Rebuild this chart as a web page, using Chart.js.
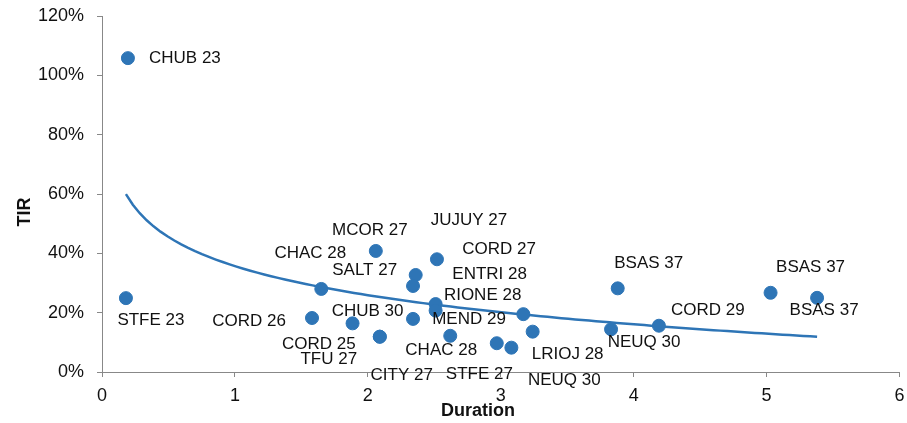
<!DOCTYPE html>
<html>
<head>
<meta charset="utf-8">
<script src="https://cdn.jsdelivr.net/npm/chart.js@4"></script>
<style>
  html, body { margin: 0; padding: 0; background: #fff; }
  #wrap { width: 907px; height: 423px; }
</style>
</head>
<body>
<div id="wrap"><canvas id="tirChart" width="907" height="423"></canvas></div>
<script>
// bond names, duration (years) and TIR (%)
const bondNames = ['CHUB 23', 'STFE 23', 'CHAC 28', 'CORD 26', 'CHUB 30', 'CORD 25', 'TFU 27',
    'MCOR 27', 'JUJUY 27', 'SALT 27', 'CORD 27', 'ENTRI 28', 'RIONE 28', 'MEND 29', 'CHAC 28',
    'CITY 27', 'STFE 27', 'NEUQ 30', 'LRIOJ 28', 'NEUQ 30', 'BSAS 37', 'CORD 29', 'BSAS 37', 'BSAS 37'];
const durations = [0.195, 0.18, 1.65, 1.58, 1.885, 2.09, 2.09,
    2.06, 2.52, 2.36, 2.34, 2.51, 2.51, 2.34, 2.62,
    2.97, 3.08, 3.17, 3.24, 3.83, 3.88, 4.19, 5.03, 5.38];
const tirValues = [105.8, 24.9, 28.0, 18.2, 16.4, 11.9, 11.9,
    40.8, 38.0, 32.7, 29.0, 22.9, 20.7, 17.9, 12.2,
    9.7, 8.2, 19.5, 13.6, 14.4, 28.2, 15.6, 26.7, 25.0];
const xTicks = [0, 1, 2, 3, 4, 5, 6];
const yTicks = [0, 20, 40, 60, 80, 100, 120];

// label placement relative to each point (pixels)
const labelOffsets = [[57, 0], [25, 22], [-11, -36], [-63, 3], [15, -12], [-61, 8], [-51, 23],
    [-6, -21], [32, -39], [-51, -5], [86, -37], [54, -30], [47, -15], [56, 0], [-9, 15],
    [-95, 32], [-32, 27], [41, 66], [35, 23], [33, 13], [31, -25], [49, -15], [40, -25], [7, 12]];

const blue = '#2E75B6';
const fontFamily = '"Liberation Sans", Arial, sans-serif';

// logarithmic trendline, least squares on ln(x)
function logFit(xs, ys) {
    const n = xs.length;
    let sx = 0, sy = 0, sxx = 0, sxy = 0;
    for (let i = 0; i < n; i++) {
        const lx = Math.log(xs[i]);
        sx += lx; sy += ys[i]; sxx += lx * lx; sxy += lx * ys[i];
    }
    const b = (n * sxy - sx * sy) / (n * sxx - sx * sx);
    const a = (sy - b * sx) / n;
    return { a, b };
}
const fit = logFit(durations, tirValues);
const xMin = Math.min(...durations), xMax = Math.max(...durations);
const trend = [];
for (let i = 0; i <= 100; i++) {
    const x = xMin + (xMax - xMin) * i / 100;
    trend.push({ x: x, y: fit.a + fit.b * Math.log(x) });
}

const pointLabels = {
    id: 'pointLabels',
    afterDatasetsDraw(chart) {
        const ctx = chart.ctx;
        const meta = chart.getDatasetMeta(0);
        ctx.save();
        ctx.font = '17px ' + fontFamily;
        ctx.fillStyle = '#111';
        ctx.textAlign = 'center';
        ctx.textBaseline = 'middle';
        meta.data.forEach((pt, i) => {
            const off = labelOffsets[i];
            ctx.fillText(bondNames[i], pt.x + off[0], pt.y + off[1]);
        });
        // axis titles, placed like the original
        ctx.font = 'bold 18px ' + fontFamily;
        ctx.fillText('Duration', 478, 411);
        ctx.translate(25, 212);
        ctx.rotate(-Math.PI / 2);
        ctx.fillText('TIR', 0, 0);
        ctx.restore();
    }
};

Chart.defaults.font.family = fontFamily;
Chart.defaults.color = '#111';

new Chart(document.getElementById('tirChart').getContext('2d'), {
    type: 'scatter',
    data: {
        datasets: [{
            label: 'TIR',
            data: durations.map((d, i) => ({ x: d, y: tirValues[i] })),
            backgroundColor: blue,
            borderColor: blue,
            pointRadius: 6.5,
            pointHoverRadius: 6.5,
            order: 1
        }, {
            type: 'line',
            label: 'Tendencia',
            data: trend,
            borderColor: blue,
            borderWidth: 2.5,
            pointRadius: 0,
            fill: false,
            tension: 0,
            order: 2
        }]
    },
    options: {
        responsive: false,
        animation: false,
        layout: { padding: { top: 16, right: 2, left: 0, bottom: 0 } },
        plugins: {
            legend: { display: false },
            tooltip: { enabled: false }
        },
        scales: {
            x: {
                type: 'linear',
                min: 0,
                max: 6,
                afterBuildTicks: (s) => { s.ticks = xTicks.map(v => ({ value: v })); },
                afterFit: (s) => { s.height = 51; s.paddingLeft = 0; s.paddingRight = 0; },
                grid: { drawOnChartArea: false, tickLength: 5, color: '#888' },
                border: { color: '#888' },
                ticks: { font: { size: 18 }, padding: 8 }
            },
            y: {
                min: 0,
                max: 120,
                afterBuildTicks: (s) => { s.ticks = yTicks.map(v => ({ value: v })); },
                afterFit: (s) => { s.width = 102; s.paddingTop = 0; s.paddingBottom = 0; },
                grid: { drawOnChartArea: false, tickLength: 5, color: '#888' },
                border: { color: '#888' },
                ticks: { font: { size: 18 }, padding: 13, callback: v => v + '%' }
            }
        }
    },
    plugins: [pointLabels]
});
</script>
</body>
</html>
